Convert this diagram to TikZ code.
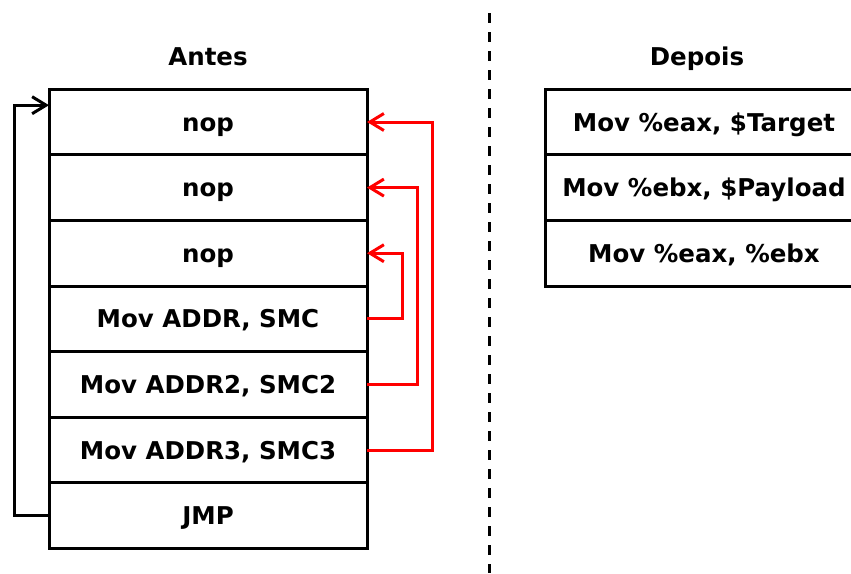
\documentclass[tikz,border=0pt]{standalone}
\usepackage{fontspec}
\setmainfont{DejaVu Sans}
\usetikzlibrary{arrows.meta, positioning}

\begin{document}
\begin{tikzpicture}[
x=1pt, y=-1pt,
cellnode/.style={rectangle, draw=black, line width=3pt, outer sep=0pt, minimum width=318pt, minimum height=65.6pt, text height=18pt, text depth=0pt, font=\fontsize{24.5}{29}\selectfont\bfseries},
titlenode/.style={text height=18pt, text depth=0pt, font=\fontsize{24.5}{29}\selectfont\bfseries},
redjump/.style={draw=red, line width=3pt, -{Straight Barb[length=14pt, width=17pt, line width=3pt]}},
loopjump/.style={draw=black, line width=3pt, -{Straight Barb[length=14pt, width=17pt, line width=3pt]}}
]
\useasboundingbox (0,0) rectangle (851,573);
\clip (0,0) rectangle (851,573);

% Antes
\node[titlenode] (title_antes) at (208,56) {Antes};
\node[cellnode] (cell_nop1) at (208,122) {nop};
\node[cellnode] (cell_nop2) [below=0pt of cell_nop1] {nop};
\node[cellnode] (cell_nop3) [below=0pt of cell_nop2] {nop};
\node[cellnode] (cell_mov1) [below=0pt of cell_nop3] {Mov ADDR, SMC};
\node[cellnode] (cell_mov2) [below=0pt of cell_mov1] {Mov ADDR2, SMC2};
\node[cellnode] (cell_mov3) [below=0pt of cell_mov2] {Mov ADDR3, SMC3};
\node[cellnode] (cell_jmp) [below=0pt of cell_mov3] {JMP};

\path[redjump] (cell_mov1.east) -- ++(35,0) |- (cell_nop3.east);
\path[redjump] (cell_mov2.east) -- ++(50,0) |- (cell_nop2.east);
\path[redjump] (cell_mov3.east) -- ++(65,0) |- (cell_nop1.east);
\path[loopjump] (cell_jmp.west) -- ++(-35,0) |- ([yshift=-16pt]cell_nop1.north west);

% separator
\coordinate (sep_top) at (489,13);
\coordinate (sep_bottom) at (489,573);
\draw[line width=3pt, dash pattern=on 10pt off 9pt] (sep_top) -- (sep_bottom);

% Depois
\node[titlenode] (title_depois) at (697,56) {Depois};
\node[cellnode] (cell_target) at (704,122) {Mov \%eax, \$Target};
\node[cellnode] (cell_payload) [below=0pt of cell_target] {Mov \%ebx, \$Payload};
\node[cellnode] (cell_swap) [below=0pt of cell_payload] {Mov \%eax, \%ebx};

\end{tikzpicture}
\end{document}
